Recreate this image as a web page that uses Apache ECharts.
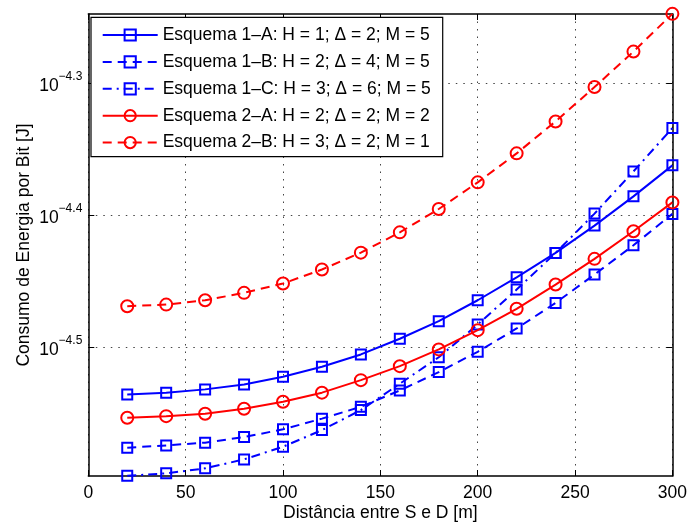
<!DOCTYPE html>
<html>
<head>
<meta charset="utf-8">
<script src="https://cdn.jsdelivr.net/npm/echarts@6/dist/echarts.min.js"></script>
<style>
html,body{margin:0;padding:0;background:#fff;}
#chart{width:690px;height:527px;}
</style>
</head>
<body>
<div id="chart"></div>
<script>
// ---- Data (y values are log10 of energy per bit, in J) ----
const distances = [20, 40, 60, 80, 100, 120, 140, 160, 180, 200, 220, 240, 260, 280, 300];
const seriesNames = [
  'Esquema 1\u2013A: H = 1; \u0394 = 2; M = 5',
  'Esquema 1\u2013B: H = 2; \u0394 = 4; M = 5',
  'Esquema 1\u2013C: H = 3; \u0394 = 6; M = 5',
  'Esquema 2\u2013A: H = 2; \u0394 = 2; M = 2',
  'Esquema 2\u2013B: H = 3; \u0394 = 2; M = 1'
];
const esquema1A = [-4.5358, -4.5345, -4.5320, -4.5283, -4.5224, -4.5148, -4.5055, -4.4936, -4.4803, -4.4644, -4.4470, -4.4285, -4.4078, -4.3856, -4.3621];
const esquema1B = [-4.5762, -4.5745, -4.5724, -4.5682, -4.5623, -4.5542, -4.5452, -4.5328, -4.5189, -4.5035, -4.4858, -4.4664, -4.4449, -4.4227, -4.3989];
const esquema1C = [-4.5975, -4.5957, -4.5919, -4.5851, -4.5755, -4.5629, -4.5477, -4.5277, -4.5076, -4.4828, -4.4563, -4.4285, -4.3987, -4.3667, -4.3338];
const esquema2A = [-4.5535, -4.5523, -4.5505, -4.5467, -4.5414, -4.5345, -4.5250, -4.5144, -4.5017, -4.4871, -4.4709, -4.4525, -4.4330, -4.4121, -4.3902];
const esquema2B = [-4.4689, -4.4677, -4.4644, -4.4588, -4.4517, -4.4411, -4.4283, -4.4129, -4.3952, -4.3750, -4.3530, -4.3288, -4.3027, -4.2758, -4.2472];
const xTickValues = [0, 50, 100, 150, 200, 250, 300];
const yTickExponents = [-4.5, -4.4, -4.3];
const yMinExp = -4.5977;
const yMaxExp = -4.2473;
const xLabel = 'Dist\u00e2ncia entre S e D [m]';
const yLabel = 'Consumo de Energia por Bit [J]';

// ---- Styling ----
const FONT = "'Liberation Sans', Arial, Helvetica, sans-serif";
const FS = 17.5;
const BLUE = '#0000ff';
const RED = '#ff0000';
const DASH = [9, 6];
const DASHDOT = [9, 5, 2, 5];

function pairs(arr) { return distances.map((d, i) => [d, arr[i]]); }

const seriesDefs = [
  { data: esquema1A, color: BLUE, symbol: 'rect', size: 10, type: 'solid' },
  { data: esquema1B, color: BLUE, symbol: 'rect', size: 10, type: DASH },
  { data: esquema1C, color: BLUE, symbol: 'rect', size: 10, type: DASHDOT },
  { data: esquema2A, color: RED, symbol: 'circle', size: 12, type: 'solid' },
  { data: esquema2B, color: RED, symbol: 'circle', size: 12, type: DASH }
];

const series = seriesDefs.map((s, i) => ({
  name: seriesNames[i],
  type: 'line',
  xAxisIndex: 0,
  yAxisIndex: 0,
  data: pairs(s.data),
  symbol: s.symbol,
  symbolSize: s.size,
  showAllSymbol: true,
  clip: false,
  smooth: false,
  animation: false,
  z: 3 + i,
  lineStyle: { color: s.color, width: 2, type: s.type },
  itemStyle: { color: 'rgba(0,0,0,0)', borderColor: s.color, borderWidth: 2 },
  emphasis: { disabled: true }
}));

const gridLine = { show: true, lineStyle: { color: '#444', width: 1, type: [1.5, 6] } };
const frameLine = { show: true, onZero: false, lineStyle: { color: '#000', width: 1.5 } };
const tickInside = { show: true, inside: true, length: 6, lineStyle: { color: '#000', width: 1 } };

function yFmt(v) {
  return '{b|10}{s|\u2212' + Math.abs(v).toFixed(1) + '}';
}

const option = {
  animation: false,
  backgroundColor: '#fff',
  textStyle: { fontFamily: FONT },
  grid: { left: 88.3, right: 15, top: 14, bottom: 50.3, containLabel: false },
  xAxis: [
    {
      type: 'value', position: 'bottom', min: 0, max: 300, interval: 50,
      name: xLabel, nameLocation: 'middle', nameGap: 28, nameMoveOverlap: false,
      nameTextStyle: { fontSize: FS, color: '#000', fontFamily: FONT },
      axisLine: frameLine, axisTick: tickInside,
      axisLabel: { show: true, margin: 8, fontSize: FS, color: '#000', fontFamily: FONT },
      splitLine: gridLine
    },
    {
      type: 'value', position: 'top', min: 0, max: 300, interval: 50,
      axisLine: frameLine, axisTick: tickInside,
      axisLabel: { show: false }, splitLine: { show: false }
    }
  ],
  yAxis: [
    {
      type: 'value', position: 'left', min: yMinExp, max: yMaxExp,
      name: yLabel, nameLocation: 'middle', nameGap: 55, nameMoveOverlap: false,
      nameTextStyle: { fontSize: FS, color: '#000', fontFamily: FONT },
      axisLine: frameLine,
      axisTick: Object.assign({}, tickInside, { customValues: yTickExponents }),
      axisLabel: {
        show: true, margin: 6, customValues: yTickExponents, formatter: yFmt,
        rich: {
          b: { fontSize: FS, color: '#000', fontFamily: FONT, padding: [5, 0, 0, 0] },
          s: { fontSize: 12, color: '#000', fontFamily: FONT, padding: [0, 0, 13, 0] }
        }
      },
      splitLine: gridLine
    },
    {
      type: 'value', position: 'right', min: yMinExp, max: yMaxExp,
      axisLine: frameLine,
      axisTick: Object.assign({}, tickInside, { customValues: yTickExponents }),
      axisLabel: { show: false, customValues: yTickExponents }, splitLine: { show: false }
    }
  ],
  legend: {
    orient: 'vertical',
    left: 91, top: 17.3,
    padding: [7.7, 12, 4.1, 10.7],
    itemGap: 6.9,
    itemWidth: 55,
    itemHeight: 14,
    backgroundColor: '#fff',
    borderColor: '#000',
    borderWidth: 1.2,
    borderRadius: 0,
    selectedMode: false,
    data: seriesNames,
    textStyle: { fontSize: FS, lineHeight: 20, color: '#000', fontFamily: FONT },
    z: 20
  },
  series: series
};

const chart = echarts.init(document.getElementById('chart'), null, { renderer: 'canvas' });
chart.setOption(option);
</script>
</body>
</html>
